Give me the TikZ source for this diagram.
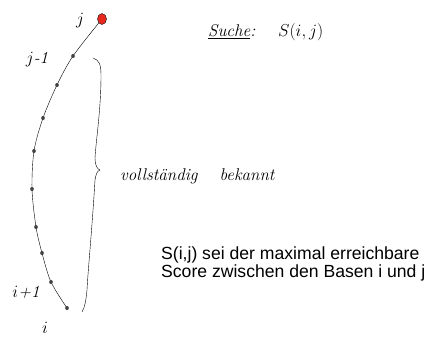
\documentclass[tikz,border=0pt]{standalone}
\usepackage{fontspec}
\setmainfont{Latin Modern Roman}
\newfontfamily\basefont{Liberation Sans}
\usetikzlibrary{shapes.geometric}
\definecolor{markred}{RGB}{232,40,30}
\begin{document}
\begin{tikzpicture}[x=1pt,y=-1pt,>=stealth,
    base/.style={ellipse,fill=black!75,inner sep=0pt,minimum width=3.6pt,minimum height=4.2pt},
    hand/.style={font=\itshape\fontsize{17}{20}\selectfont,inner sep=0pt},
    note/.style={font=\basefont\fontsize{17.6}{18}\selectfont,align=left,anchor=base west,inner sep=0pt}]
\useasboundingbox (0,0) rectangle (435,338);

% Kette der Basen
\draw[thin] plot[smooth] coordinates {(102,19) (73,56) (57,85) (43,118) (34,151) (32,189) (36,227) (42,253) (51,282) (67,308)};
\foreach \p [count=\k] in {(73,56),(57,85),(43,118),(34,151),(32,189),(36,227),(42,253),(51,282),(67,308)}
    \node[base] (b\k) at \p {};
\node[ellipse,draw=black,fill=markred,inner sep=0pt,minimum width=9pt,minimum height=11pt] (bj) at (102,19) {};

\node[hand] (lj) at (80,21) {$j$};
\node[hand] (ljm) at (37,60) {$j$-1};
\node[hand] (lip) at (26,292) {$i$+1};
\node[hand] (li) at (45,328) {$i$};

% geschweifte Klammer
\draw[thin] (93,58) .. controls (99,60) and (101,64) .. (101,75)
    .. controls (101,110) and (96,140) .. (95,158)
    .. controls (95,165) and (97,169) .. (100,170)
    .. controls (97,171) and (96,174) .. (95,180)
    .. controls (92,230) and (88,270) .. (87,290)
    .. controls (86,300) and (85,307) .. (82,312);
\node[hand,anchor=west] (voll) at (120,176) {vollst\"andig\hspace{22pt}bekannt};

\node[hand,anchor=west] (such) at (208,32) {\underline{Suche}:};
\node[hand,anchor=west] (sij) at (278,32) {$S(i,j)$};

\node[note] (def) at (161,277) {S(i,j) sei der maximal erreichbare\\Score zwischen den Basen i und j};
\end{tikzpicture}
\end{document}
